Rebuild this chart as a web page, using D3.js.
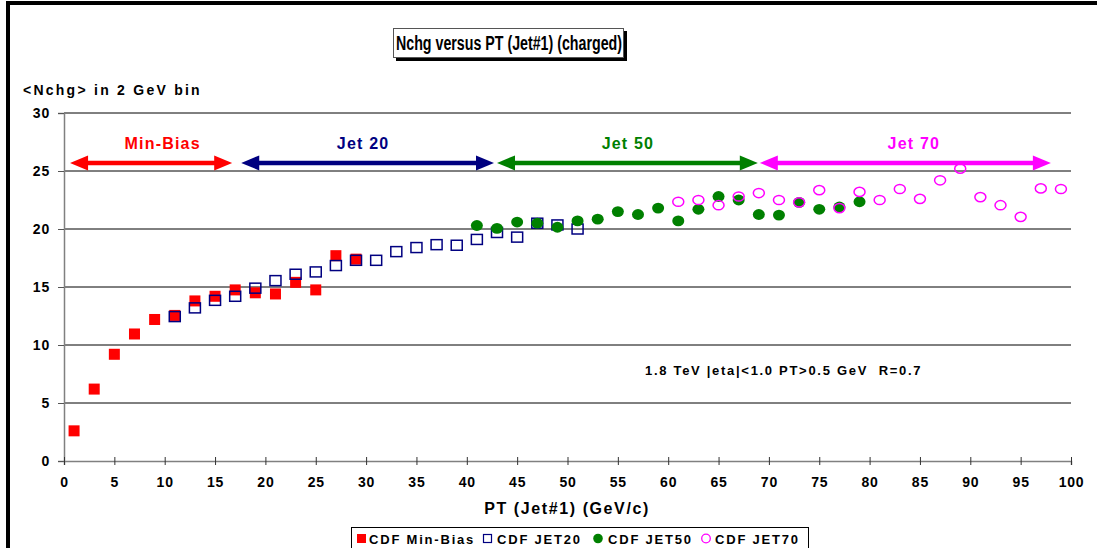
<!DOCTYPE html>
<html>
<head>
<meta charset="utf-8">
<script src="https://cdn.jsdelivr.net/npm/d3@7"></script>
<style>
  html, body { margin: 0; padding: 0; background: #fff; }
  svg { display: block; }
  text { font-family: "Liberation Sans", Arial, sans-serif; font-weight: bold; fill: #000; }
</style>
</head>
<body>
<svg id="chart" width="1097" height="548"></svg>
<script>
// <Nchg> of charged particles vs leading-jet PT, CDF 1.8 TeV samples
const minBiasPt = [1, 3, 5, 7, 9, 11, 13, 15, 17, 19, 21, 23, 25, 27, 29];
const minBias   = [2.6, 6.2, 9.2, 10.95, 12.2, 12.55, 13.8, 14.2, 14.75, 14.5, 14.4, 15.4, 14.75, 17.7, 17.4];

const jet20Pt = [11, 13, 15, 17, 19, 21, 23, 25, 27, 29, 31, 33, 35, 37, 39, 41, 43, 45, 47, 49, 51];
const jet20   = [12.45, 13.2, 13.85, 14.2, 14.9, 15.55, 16.1, 16.3, 16.85, 17.3, 17.3, 18.05, 18.4, 18.65, 18.6, 19.1, 19.7, 19.3, 20.5, 20.35, 20.0];

const jet50Pt = [41, 43, 45, 47, 49, 51, 53, 55, 57, 59, 61, 63, 65, 67, 69, 71, 73, 75, 77, 79];
const jet50   = [20.3, 20.05, 20.6, 20.5, 20.15, 20.7, 20.85, 21.5, 21.25, 21.8, 20.7, 21.7, 22.8, 22.5, 21.25, 21.2, 22.3, 21.7, 21.9, 22.35];

const jet70Pt = [61, 63, 65, 67, 69, 71, 73, 75, 77, 79, 81, 83, 85, 87, 89, 91, 93, 95, 97, 99];
const jet70   = [22.35, 22.5, 22.05, 22.8, 23.1, 22.5, 22.3, 23.35, 21.8, 23.2, 22.5, 23.45, 22.6, 24.2, 25.2, 22.75, 22.05, 21.05, 23.5, 23.45];

const xTicks = [0, 5, 10, 15, 20, 25, 30, 35, 40, 45, 50, 55, 60, 65, 70, 75, 80, 85, 90, 95, 100];
const yTicks = [0, 5, 10, 15, 20, 25, 30];

// PT ranges covered by each trigger sample
const rangeNames  = ["Min-Bias", "Jet 20", "Jet 50", "Jet 70"];
const rangeFrom   = [0.6, 17.6, 43.0, 69.1];
const rangeTo     = [16.7, 42.7, 68.9, 98.0];
const rangeLabelX = [9.8, 29.7, 56.0, 84.4];
const rangeY      = 25.7;

const legendNames = ["CDF Min-Bias", "CDF JET20", "CDF JET50", "CDF JET70"];
const colors = { red: "#ff0000", navy: "#000080", green: "#008000", magenta: "#ff00ff" };
const rangeColors = [colors.red, colors.navy, colors.green, colors.magenta];

const svg = d3.select("#chart");

// outer frame (thick left and top edges)
svg.append("rect").attr("x", 8).attr("y", 3).attr("width", 1100).attr("height", 560)
  .attr("fill", "none").attr("stroke", "#000").attr("stroke-width", 4);

const x = d3.scaleLinear().domain([0, 100]).range([64, 1071]);
const y = d3.scaleLinear().domain([0, 30]).range([461, 113]);

// horizontal gridlines
svg.append("g").selectAll("line").data(yTicks.filter(d => d > 0)).join("line")
  .attr("x1", x(0)).attr("x2", x(100))
  .attr("y1", d => y(d)).attr("y2", d => y(d))
  .attr("stroke", "#000").attr("stroke-width", 1);

// y axis
const yAxis = svg.append("g").attr("transform", `translate(${x(0)},0)`)
  .call(d3.axisLeft(y).tickValues(yTicks).tickSize(6).tickPadding(8));
yAxis.select(".domain").attr("stroke", "#808080").attr("stroke-width", 1.5);
yAxis.selectAll(".tick line").attr("stroke", "#555");
yAxis.selectAll(".tick text").attr("font-size", 14).attr("letter-spacing", 0.8)
  .attr("font-family", "Liberation Sans, Arial, sans-serif").attr("font-weight", "bold").attr("fill", "#000");

// x axis
const xAxis = svg.append("g").attr("transform", `translate(0,${y(0)})`)
  .call(d3.axisBottom(x).tickValues(xTicks).tickSize(4).tickPadding(12));
xAxis.select(".domain").attr("stroke", "#808080").attr("stroke-width", 1.5);
xAxis.selectAll(".tick line").attr("y1", -4).attr("stroke", "#333");
xAxis.selectAll(".tick text").attr("font-size", 14).attr("letter-spacing", 0.8)
  .attr("font-family", "Liberation Sans, Arial, sans-serif").attr("font-weight", "bold").attr("fill", "#000");

// axis titles
svg.append("text").attr("x", 23).attr("y", 95).attr("font-size", 14).attr("letter-spacing", 2.25)
  .text("<Nchg> in 2 GeV bin");
svg.append("text").attr("x", 567).attr("y", 514).attr("text-anchor", "middle")
  .attr("font-size", 16).attr("letter-spacing", 1.6).text("PT (Jet#1) (GeV/c)");

// title box with drop shadow
svg.append("rect").attr("x", 396).attr("y", 31).attr("width", 231).attr("height", 30).attr("fill", "#000");
svg.append("rect").attr("x", 393.5).attr("y", 28.5).attr("width", 230).attr("height", 29)
  .attr("fill", "#fff").attr("stroke", "#555").attr("stroke-width", 1);
svg.append("text").attr("x", 396).attr("y", 50).attr("font-size", 20)
  .attr("textLength", 226).attr("lengthAdjust", "spacingAndGlyphs")
  .text("Nchg versus PT (Jet#1) (charged)");

// annotation
svg.append("text").attr("x", 645).attr("y", 375).attr("font-size", 13).attr("letter-spacing", 1.7)
  .attr("xml:space", "preserve").style("white-space", "pre")
  .text("1.8 TeV |eta|<1.0 PT>0.5 GeV  R=0.7");

// range arrows
const arrows = svg.append("g");
rangeNames.forEach((name, i) => {
  const x0 = x(rangeFrom[i]), x1 = x(rangeTo[i]), yy = y(rangeY);
  const c = rangeColors[i], hl = 18, hw = 7.5;
  arrows.append("line").attr("x1", x0 + hl - 2).attr("x2", x1 - hl + 2)
    .attr("y1", yy).attr("y2", yy).attr("stroke", c).attr("stroke-width", 4.5);
  arrows.append("path").attr("fill", c)
    .attr("d", `M${x0},${yy} L${x0 + hl},${yy - hw} L${x0 + hl},${yy + hw} Z`);
  arrows.append("path").attr("fill", c)
    .attr("d", `M${x1},${yy} L${x1 - hl},${yy - hw} L${x1 - hl},${yy + hw} Z`);
  arrows.append("text").attr("x", x(rangeLabelX[i])).attr("y", 149)
    .attr("text-anchor", "middle").attr("font-size", 16).attr("letter-spacing", 1.2)
    .attr("fill", c).style("fill", c).text(name);
});

// series markers
const pts = (xs, vs) => xs.map((p, i) => ({ p, v: vs[i] }));
const sq = 11;

svg.append("g").selectAll("rect").data(pts(minBiasPt, minBias)).join("rect")
  .attr("x", d => x(d.p) - sq / 2).attr("y", d => y(d.v) - sq / 2)
  .attr("width", sq).attr("height", sq).attr("fill", colors.red);

svg.append("g").selectAll("rect").data(pts(jet20Pt, jet20)).join("rect")
  .attr("x", d => x(d.p) - 5.5).attr("y", d => y(d.v) - 5)
  .attr("width", 11).attr("height", 10)
  .attr("fill", "none").attr("stroke", colors.navy).attr("stroke-width", 1.5);

svg.append("g").selectAll("ellipse").data(pts(jet50Pt, jet50)).join("ellipse")
  .attr("cx", d => x(d.p)).attr("cy", d => y(d.v))
  .attr("rx", 6).attr("ry", 5.4).attr("fill", colors.green);

svg.append("g").selectAll("ellipse").data(pts(jet70Pt, jet70)).join("ellipse")
  .attr("cx", d => x(d.p)).attr("cy", d => y(d.v))
  .attr("rx", 5.5).attr("ry", 4.6)
  .attr("fill", "none").attr("stroke", colors.magenta).attr("stroke-width", 1.5);

// legend
const lg = svg.append("g");
lg.append("rect").attr("x", 351.5).attr("y", 527.5).attr("width", 457).attr("height", 30)
  .attr("fill", "#fff").attr("stroke", "#000").attr("stroke-width", 1);
const legendX = [357, 483, 593, 701];
const textX = [369, 497, 608, 715];
legendNames.forEach((name, i) => {
  const cx = legendX[i], cy = 538.5;
  if (i === 0) lg.append("rect").attr("x", cx).attr("y", cy - 4.5).attr("width", 9).attr("height", 9).attr("fill", colors.red);
  if (i === 1) lg.append("rect").attr("x", cx + 0.5).attr("y", cy - 4).attr("width", 8).attr("height", 8)
    .attr("fill", "none").attr("stroke", colors.navy).attr("stroke-width", 1.2);
  if (i === 2) lg.append("circle").attr("cx", cx + 5).attr("cy", cy).attr("r", 4.8).attr("fill", colors.green);
  if (i === 3) lg.append("circle").attr("cx", cx + 5).attr("cy", cy).attr("r", 4.3)
    .attr("fill", "none").attr("stroke", colors.magenta).attr("stroke-width", 1.3);
  lg.append("text").attr("x", textX[i]).attr("y", 543.5).attr("font-size", 13)
    .attr("letter-spacing", 1.8).text(name);
});
</script>
</body>
</html>
